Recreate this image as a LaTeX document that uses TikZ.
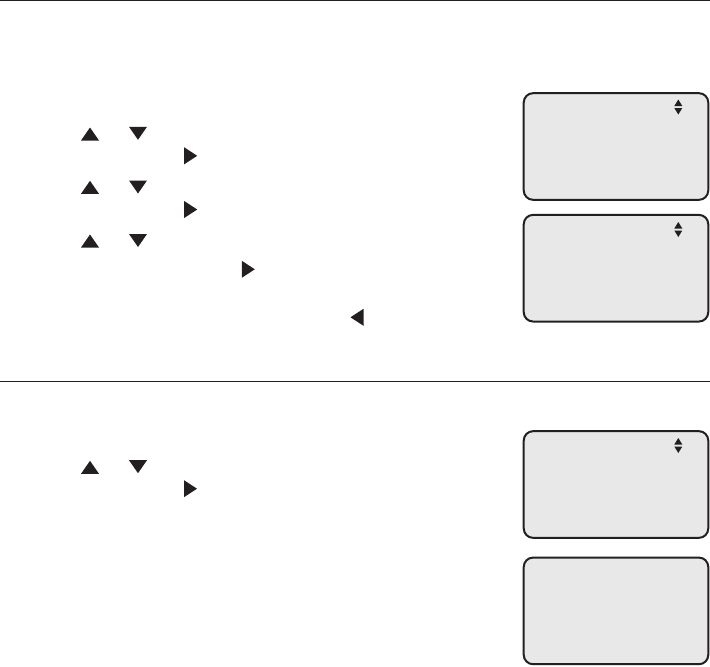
\documentclass[tikz,border=0pt]{standalone}
\usetikzlibrary{positioning}
\definecolor{ink}{HTML}{231F20}
\definecolor{lcd}{HTML}{E8E8E8}
\begin{document}
\begin{tikzpicture}[x=0.75pt,y=-0.75pt,
  screen/.style={draw=ink,fill=lcd,line width=1.5pt,rounded corners=7pt,
    minimum width=138.4pt,minimum height=80pt,inner sep=0pt},
  rule/.style={draw=ink,line width=1pt},
  uptri/.pic={\fill[ink] (-9,6.5)--(9,6.5)--(0,-6.5)--cycle;},
  dntri/.pic={\fill[ink] (-9,-6.5)--(9,-6.5)--(0,6.5)--cycle;},
  rttri/.pic={\fill[ink] (-6.5,-8.5)--(-6.5,8.5)--(6.5,0)--cycle;},
  lftri/.pic={\fill[ink] (6.5,-8.5)--(6.5,8.5)--(-6.5,0)--cycle;},
  updn/.pic={\fill[ink] (-4,3)--(4,3)--(0,-3.5)--cycle;
             \fill[ink] (-4,5)--(4,5)--(0,11.5)--cycle;}]
\useasboundingbox (0,0) rectangle (710,667);
% rules
\coordinate (r1a) at (0,0.7); \coordinate (r1b) at (710,0.7);
\coordinate (r2a) at (0,381.6); \coordinate (r2b) at (710,381.6);
\draw[rule] (r1a) -- (r1b);
\draw[rule] (r2a) -- (r2b);
% screens
\node[screen] (s1) at (616,146.5) {};
\node[screen] (s2) at (616,268.2) {};
\node[screen] (s3) at (616,484.5) {};
\node[screen] (s4) at (616,610.9) {};
\pic at (678.3,103) {updn};
\pic at (678.3,225.5) {updn};
\pic at (678.3,441.5) {updn};
% section 1 keys
\pic at (90,134) {uptri};
\pic at (138,133.3) {dntri};
\pic at (190.7,155.8) {rttri};
\pic at (90,187.3) {uptri};
\pic at (138,187) {dntri};
\pic at (190.7,209.5) {rttri};
\pic at (90,241) {uptri};
\pic at (138,240.5) {dntri};
\pic at (248.3,269.3) {rttri};
\pic at (357,317.3) {lftri};
% section 2 keys
\pic at (90,467.3) {uptri};
\pic at (138,466.7) {dntri};
\pic at (190.5,488.7) {rttri};
\end{tikzpicture}
\end{document}
